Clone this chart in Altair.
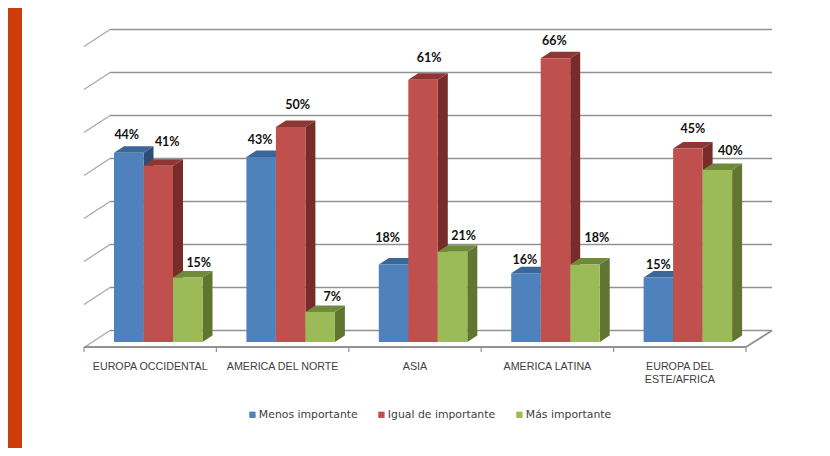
import altair as alt
import pandas as pd

categories = ["EUROPA OCCIDENTAL", "AMERICA DEL NORTE", "ASIA", "AMERICA LATINA", "EUROPA DEL|ESTE/AFRICA"]
series_names = ["Menos importante", "Igual de importante", "Más importante"]
menos = [44, 43, 18, 16, 15]
igual = [41, 50, 61, 66, 45]
mas = [15, 7, 21, 18, 40]
grid_values = [0, 10, 20, 30, 40, 50, 60, 70]

front_colors = ["#4F81BD", "#C0504D", "#9BBB59"]
top_colors = ["#3A6699", "#8F3533", "#6F8A3A"]
side_colors = ["#2C4D75", "#772C2A", "#5F7530"]

# label placement, in pixels from the centre of each bar's top edge
label_dx = [[-2, -1, -6, -1, 0], [9, 7, 6, -1, 5], [11, 12, 11, 12, 13]]
label_dy = [[-18, -17, -27, -13, -13], [-24, -22, -22, -17, -20], [-15, -15, -16, -27, -19]]

PX_X = 132.4          # pixels per category
PX_Y = 4.3            # pixels per percentage point
X0_PAGE, Y0_PAGE = 84, 342
W, H = 814, 440
x_dom = [(8 - X0_PAGE) / PX_X, (8 + W - X0_PAGE) / PX_X]
y_dom = [(Y0_PAGE - (8 + H)) / PX_Y, (Y0_PAGE - 8) / PX_Y]
X = lambda f: alt.X(f, type="quantitative", scale=alt.Scale(domain=x_dom, nice=False, zero=False), axis=None)
Y = lambda f: alt.Y(f, type="quantitative", scale=alt.Scale(domain=y_dom, nice=False, zero=False), axis=None, stack=None)

bar_w = 29.5 / PX_X
start = 30 / PX_X
depth_x = 10 / PX_X
depth_y = 6.5 / PX_Y
back_x = 26 / PX_X
back_y = 11.5 / PX_Y      # back wall base above the bars' base
floor_y = -5 / PX_Y       # front floor edge below the bars' base
wall_dy = 17 / PX_Y
tick_len = 5 / PX_Y

values = [menos, igual, mas]
layers = []

layers.append(alt.Chart(pd.DataFrame({"a": [0]})).mark_rect(color="#CC3D0B").encode(
    x=alt.value(0), x2=alt.value(14), y=alt.value(0), y2=alt.value(H)))

# back wall gridlines, left wall and floor
grid = pd.DataFrame({"v": grid_values})
grid["x1"] = back_x
grid["x2"] = 5 + back_x
grid["y"] = grid.v + back_y
grid["lx"] = 0.0
grid["ly"] = grid.y - wall_dy
layers.append(alt.Chart(grid).mark_rule(color="#929292", strokeWidth=1.6).encode(
    x=X("x1"), x2="x2", y=Y("y")))
layers.append(alt.Chart(grid).mark_rule(color="#A8A8A8", strokeWidth=1.3).encode(
    x=X("lx"), x2="x1", y=Y("ly"), y2="y"))
edge = pd.DataFrame({"x1": [0.0, 5.0], "x2": [5.0, 5 + back_x], "y1": [floor_y, floor_y], "y2": [floor_y, back_y]})
layers.append(alt.Chart(edge).mark_rule(color="#929292", strokeWidth=1.8).encode(
    x=X("x1"), x2="x2", y=Y("y1"), y2="y2"))
ticks = pd.DataFrame({"x": list(range(6))})
ticks["y1"] = floor_y
ticks["y2"] = floor_y - tick_len
layers.append(alt.Chart(ticks).mark_rule(color="#929292", strokeWidth=1.2).encode(
    x=X("x"), y=Y("y1"), y2="y2"))

color_scale = alt.Scale(domain=series_names, range=front_colors)
for s, name in enumerate(series_names):
    side_rows, top_rows, front_rows = [], [], []
    for i, v in enumerate(values[s]):
        x0 = i + start + s * bar_w
        x1 = x0 + bar_w
        side_rows += [
            {"b": i, "x": x1, "y": 0.0, "y2": float(v)},
            {"b": i, "x": x1 + depth_x, "y": depth_y, "y2": v + depth_y},
        ]
        top_rows += [
            {"b": i, "x": x0, "y": float(v), "y2": float(v)},
            {"b": i, "x": x0 + depth_x, "y": float(v), "y2": v + depth_y},
            {"b": i, "x": x1, "y": float(v), "y2": v + depth_y},
            {"b": i, "x": x1 + depth_x, "y": v + depth_y, "y2": v + depth_y},
        ]
        front_rows.append({"x": x0, "x2": x1, "y": 0.0, "y2": float(v), "serie": name})
    layers.append(alt.Chart(pd.DataFrame(side_rows)).mark_area(color=side_colors[s]).encode(
        x=X("x"), y=Y("y"), y2="y2", detail="b:N"))
    layers.append(alt.Chart(pd.DataFrame(top_rows)).mark_area(color=top_colors[s]).encode(
        x=X("x"), y=Y("y"), y2="y2", detail="b:N"))
    layers.append(alt.Chart(pd.DataFrame(front_rows)).mark_rect().encode(
        x=X("x"), x2="x2", y=Y("y"), y2="y2",
        color=alt.Color("serie:N", scale=color_scale, legend=alt.Legend(
            title=None, orient="none", legendX=239, legendY=401, direction="horizontal",
            columns=3, symbolType="square", symbolSize=40, symbolStrokeWidth=0,
            labelFont="DejaVu Sans", labelFontSize=10.85, labelColor="#404040",
            labelOffset=1, columnPadding=18, symbolOpacity=1, labelLimit=200))))

# value labels
lab = []
for s in range(3):
    for i, v in enumerate(values[s]):
        lab.append({
            "x": i + start + (s + 0.5) * bar_w + label_dx[s][i] / PX_X,
            "y": v + -label_dy[s][i] / PX_Y,
            "t": f"{v}%",
        })
layers.append(alt.Chart(pd.DataFrame(lab)).mark_text(
    font="Lato", fontWeight="bold", fontSize=12.5, color="#111111", baseline="middle", align="center"
).encode(x=X("x"), y=Y("y"), text="t:N"))

# category labels
cat_rows = []
for i, c in enumerate(categories):
    for j, part in enumerate(c.split("|")):
        cat_rows.append({"x": i + 0.5, "y": (Y0_PAGE - 367 - 13 * j) / PX_Y, "t": part})
layers.append(alt.Chart(pd.DataFrame(cat_rows)).mark_text(
    font="Liberation Sans", fontSize=10.7, color="#404040", baseline="middle", align="center"
).encode(x=X("x"), y=Y("y"), text="t:N"))

chart = alt.layer(*layers).properties(
    width=W, height=H, padding=0, background="#FFFFFF", autosize=alt.AutoSizeParams(type="none")
).configure_view(stroke=None)

chart.save("out.html", embed_options={"renderer": "svg", "actions": False})
